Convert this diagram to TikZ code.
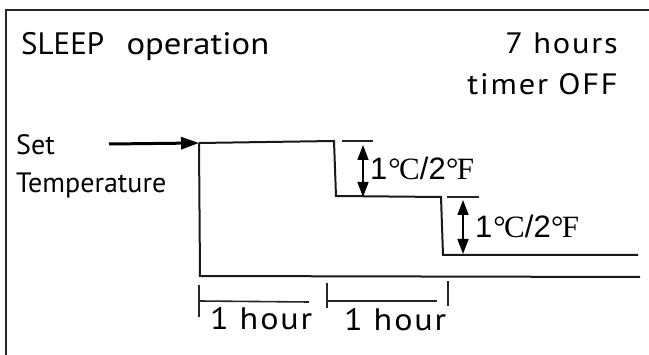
\documentclass[tikz,border=0pt]{standalone}
\usepackage{fontspec}
\setmainfont{PT Sans}
\newfontfamily\widef[FakeStretch=1.1,LetterSpace=6]{PT Sans}
\newfontfamily\opf[FakeStretch=1.12]{PT Sans}
\newfontfamily\arialf{Liberation Sans}
\newfontfamily\timesf{Liberation Serif}
\usetikzlibrary{arrows.meta}
\newcommand{\degC}{{\timesf\kern0.03em\textdegree\kern-0.05em C}}
\newcommand{\degF}{{\timesf\kern0.01em\textdegree\kern-0.05em F}}
\tikzset{
  x=1pt, y=-1pt,
  titletxt/.style={inner sep=0pt, font=\fontsize{31}{36}\selectfont},
  txt/.style={inner sep=0pt, font=\widef\fontsize{29.5}{36}\selectfont},
  hourtxt/.style={inner sep=0pt, font=\widef\fontsize{31}{36}\selectfont},
  smalltxt/.style={inner sep=0pt, font=\fontsize{28}{32}\selectfont},
  deglbl/.style={inner sep=0pt, anchor=base west, font=\arialf\fontsize{31}{34}\selectfont},
  curve/.style={line width=2pt, black!90},
  tick/.style={line width=1.6pt, black!85},
  dimarrow/.style={line width=1.6pt, {Triangle[length=15pt,width=11pt]}-{Triangle[length=15pt,width=11pt]}},
}
\begin{document}
\begin{tikzpicture}
\useasboundingbox (0,0) rectangle (649,355);
\fill[white] (0,0) rectangle (649,355);
% frame (right and bottom sides lie outside the picture)
\draw[line width=2.6pt, black!85] (6,372) -- (6,10) -- (665,10);
% texts
\node[titletxt, anchor=base west] (title) at (21,55) {SLEEP\hspace{0.72em}{\opf operation}};
\node[txt, anchor=base east] (hours) at (618,54) {7 hours};
\node[txt, anchor=base east] (timer) at (618,95) {timer OFF};
\node[smalltxt, anchor=base west] (set) at (16,155) {Set};
\node[smalltxt, anchor=base west] (temp) at (16,193) {Temperature};
% set temperature arrow
\coordinate (a0) at (109,144);
\coordinate (p0) at (199,143);
\draw[line width=3pt, -{Triangle[length=18pt,width=12pt]}] (a0) -- (p0);
% temperature step curve
\coordinate (p1) at (334,141);
\coordinate (p2) at (336,196);
\coordinate (p3) at (441,197);
\coordinate (p4) at (443,255);
\coordinate (p5) at (638,255);
\draw[curve] (p0) -- (p1) -- (p2) -- (p3) -- (p4) -- (p5);
% time axis
\coordinate (q1) at (200,276);
\coordinate (q2) at (640,277);
\draw[curve] (p0) -- (q1) -- (q2);
% first 1 deg step
\coordinate (t1a) at (342,141);
\coordinate (t1b) at (373,141);
\draw[tick] (t1a) -- (t1b);
\coordinate (d1a) at (363,145);
\coordinate (d1b) at (363,197);
\draw[dimarrow] (d1a) -- (d1b);
\node[deglbl] (l1) at (370,180) {1\degC/2\degF};
% second 1 deg step
\coordinate (t2a) at (447,197);
\coordinate (t2b) at (479,197);
\draw[tick] (t2a) -- (t2b);
\coordinate (d2a) at (463,200);
\coordinate (d2b) at (463,254);
\draw[dimarrow] (d2a) -- (d2b);
\node[deglbl] (l2) at (475,238) {1\degC/2\degF};
% hour markers
\coordinate (h1a) at (199,285);
\coordinate (h1b) at (199,317);
\draw[tick] (h1a) -- (h1b);
\coordinate (h1c) at (199,301);
\coordinate (h1d) at (309,302);
\draw[tick] (h1c) -- (h1d);
\coordinate (h2a) at (327,283);
\coordinate (h2b) at (327,308);
\draw[tick] (h2a) -- (h2b);
\coordinate (h2c) at (327,301);
\coordinate (h2d) at (437,301);
\draw[tick] (h2c) -- (h2d);
\coordinate (h3a) at (448,281);
\coordinate (h3b) at (448,306);
\draw[tick] (h3a) -- (h3b);
\node[hourtxt, anchor=base west] (hour1) at (210,330) {1 hour};
\node[hourtxt, anchor=base west] (hour2) at (344,331) {1 hour};
\end{tikzpicture}
\end{document}
